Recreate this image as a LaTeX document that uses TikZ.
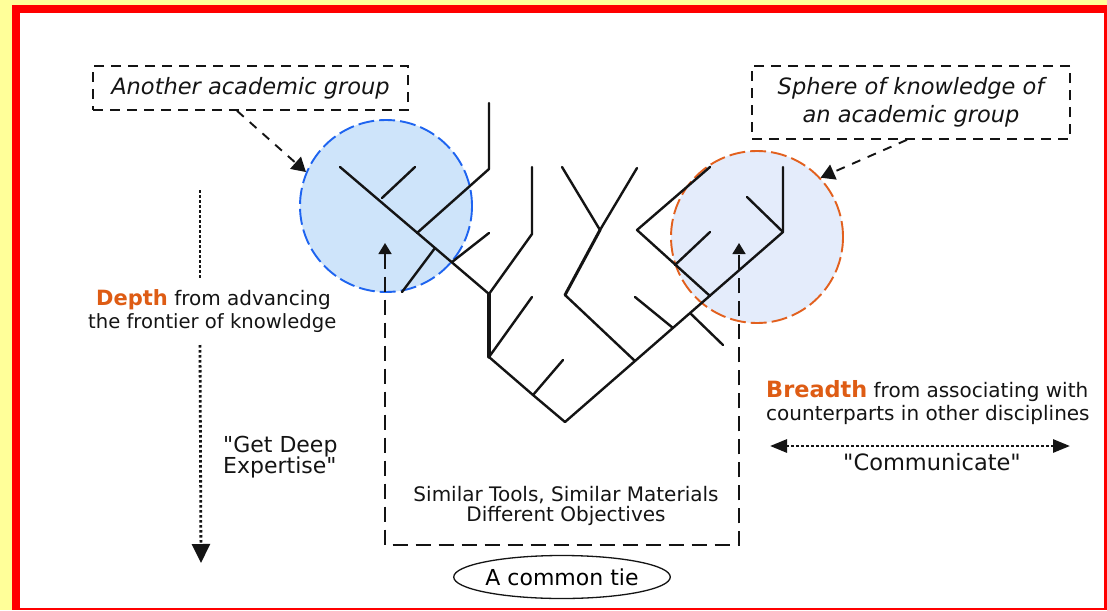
\documentclass[tikz,border=0pt]{standalone}
\usepackage{fontspec}
\setmainfont{DejaVu Sans}[Ligatures=TeXOff]
\usetikzlibrary{arrows.meta,shapes.geometric,calc}

\definecolor{pageyellow}{RGB}{255,255,153}
\definecolor{framered}{RGB}{255,0,0}
\definecolor{accent}{RGB}{222,92,20}
\definecolor{blueline}{RGB}{30,100,240}
\definecolor{bluefill}{RGB}{206,228,250}
\definecolor{orangeline}{RGB}{226,96,30}
\definecolor{palefill}{RGB}{228,236,251}
\definecolor{ink}{RGB}{20,20,20}

\begin{document}
\begin{tikzpicture}[x=1pt,y=-1pt,
  tagbox/.style={draw=ink, line width=1.6pt, dash pattern=on 10pt off 7pt,
    font=\itshape\fontsize{22.5}{28}\selectfont, text=ink, inner sep=0pt, align=center},
  zone/.style={circle, minimum size=172pt, inner sep=0pt, line width=1.9pt,
    dash pattern=on 16pt off 5pt},
  branch/.style={ink, line width=2.4pt, line cap=round, line join=round},
  callout/.style={ink, line width=1.9pt, dash pattern=on 9pt off 8pt,
    -{Triangle[length=14pt,width=16pt]}},
  bracket/.style={ink, line width=1.6pt, dash pattern=on 15pt off 8pt,
    {Triangle[length=11pt,width=13pt]}-{Triangle[length=11pt,width=13pt]}},
  dotline/.style={ink, line width=2.8pt, dash pattern=on 2.5pt off 2.5pt},
  txt/.style={font=\fontsize{20}{21}\selectfont, text=ink, inner sep=0pt},
  bigtxt/.style={font=\fontsize{22.5}{23}\selectfont, text=ink, inner sep=0pt}
]
\useasboundingbox (0,0) rectangle (1107,610);

% frame
\fill[pageyellow] (0,0) rectangle (1107,610);
\fill[framered] (12,5) rectangle (1107,610);
\fill[white] (20,13) rectangle (1104,608);

% spheres of knowledge
\node[zone, draw=blueline, fill=bluefill] (bluezone) at (386,206) {};
\node[zone, draw=orangeline, fill=palefill] (palezone) at (757,237) {};

% branching tree of disciplines
\begin{scope}[branch]
  % left group
  \draw (340,167) -- (489,294);
  \draw (382,198) -- (415,167);
  \draw (417,233) -- (489,169) -- (489,103);
  \draw (452,262) -- (489,233);
  \draw (435,248) -- (402,292);
  \draw (489,294) -- (532,234) -- (532,167);
  \draw[line width=3.4pt] (489,294) -- (489,357);
  \draw (489,357) -- (532,297);
  \draw (489,357) -- (533,395) -- (565,422);
  \draw (533,395) -- (563,360);
  % right group
  \draw (565,422) -- (783,232) -- (783,167);
  \draw (635,361) -- (565,295);
  \draw[line width=3pt] (565,295) -- (600,230);
  \draw (600,230) -- (562,167);
  \draw (600,230) -- (637,168);
  \draw (673,328) -- (635,297);
  \draw (690,313) -- (723,345);
  \draw (710,296) -- (637,230) -- (710,167);
  \draw (675,265) -- (710,232);
  \draw (783,232) -- (747,197);
\end{scope}

% callout boxes
\node[tagbox, minimum width=315pt, minimum height=44pt] (other) at (250.5,88)
  {Another academic group};
\node[tagbox, minimum width=318pt, minimum height=73pt] (sphere) at (911,102.5)
  {Sphere of knowledge of\\an academic group};
\draw[callout] ([xshift=-13.5pt]other.south) -- (bluezone.157);
\draw[callout] ([xshift=-4pt]sphere.south) -- (palezone.43);

% common ground bracket
\coordinate (bluetip) at (385,243);
\coordinate (paletip) at (739,243);
\coordinate (tiebase) at (562,545);
\draw[bracket] (bluetip) -- (bluetip |- tiebase) -- (paletip |- tiebase) -- (paletip);
\node[txt, align=center, font=\fontsize{20}{20}\selectfont] (shared) at (566,506)
  {Similar Tools, Similar Materials\\Different Objectives};
\node[ellipse, draw=ink, line width=1.3pt, minimum width=215pt, minimum height=43pt,
  inner sep=0pt, font=\fontsize{22}{22}\selectfont] (tie) at (562,577) {A common tie};

% depth
\node[txt, anchor=base west] (depthA) at (96,305)
  {{\fontsize{21}{21}\selectfont\bfseries\color{accent}Depth} from advancing};
\node[txt, anchor=base west, font=\fontsize{19.6}{21}\selectfont] (depthB) at (88,328)
  {the frontier of knowledge};
\coordinate (deepA) at (200,190);
\coordinate (deepB) at (200,278);
\coordinate (deepC) at (200,345);
\coordinate (deepD) at (201,563);
\draw[dotline] (deepA) -- (deepB);
\draw[dotline, -{Triangle[length=19pt,width=18pt]}] (deepC) -- (deepD);
\node[bigtxt, anchor=base west, font=\fontsize{22}{22}\selectfont] (deepA1) at (223,452) {"Get Deep};
\node[bigtxt, anchor=base west, font=\fontsize{22}{22}\selectfont] (deepA2) at (223,473) {Expertise"};

% breadth
\node[txt, anchor=base west] (breadthA) at (766,397)
  {{\fontsize{22.4}{22}\selectfont\bfseries\color{accent}Breadth} from associating with};
\node[txt, anchor=base west] (breadthB) at (766,420)
  {counterparts in other disciplines};
\coordinate (commL) at (770,446);
\coordinate (commR) at (1070,446);
\draw[dotline, {Triangle[length=17pt,width=13pt]}-{Triangle[length=17pt,width=13pt]}] (commL) -- (commR);
\node[bigtxt, anchor=base, font=\fontsize{22.5}{22}\selectfont] (comm) at (932,470) {"Communicate"};
\end{tikzpicture}
\end{document}
